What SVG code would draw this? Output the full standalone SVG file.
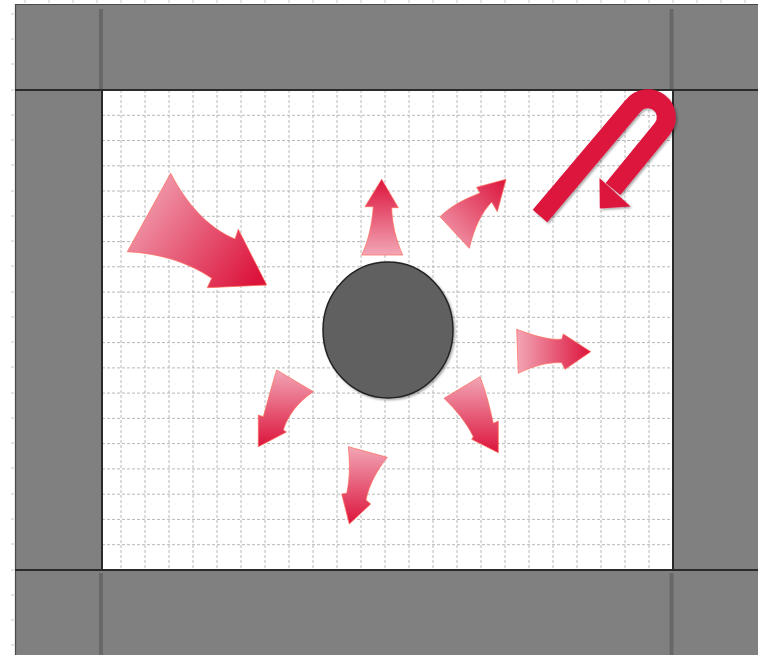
<svg xmlns="http://www.w3.org/2000/svg" width="758" height="655" viewBox="0 0 758 655">
<defs>
<style>
.band{fill:#808080}
.bar{fill:#686868}
.frame{stroke:#2a2a2a;stroke-width:2;fill:none}
.grid line{stroke:#b8b8b8;stroke-width:1;stroke-dasharray:3 2}
.tick{stroke:#c8c8c8;stroke-width:1}
.arrow{stroke:#ff6a55;stroke-opacity:0.7;stroke-width:1;stroke-linejoin:miter}
</style>
<linearGradient id="gR" x1="0" y1="0" x2="1" y2="0"><stop offset="0" stop-color="#f2a6b6"/><stop offset="1" stop-color="#dc143c"/></linearGradient>
<linearGradient id="gBig" x1="0" y1="0.2" x2="1" y2="0.8"><stop offset="0" stop-color="#f2a6b6"/><stop offset="1" stop-color="#dc143c"/></linearGradient>
<linearGradient id="gUp" x1="0" y1="1" x2="0" y2="0"><stop offset="0" stop-color="#f2a6b6"/><stop offset="1" stop-color="#dc143c"/></linearGradient>
<linearGradient id="gUR" x1="0" y1="1" x2="1" y2="0"><stop offset="0" stop-color="#f2a6b6"/><stop offset="1" stop-color="#dc143c"/></linearGradient>
<linearGradient id="gDown" x1="0" y1="0" x2="0" y2="1"><stop offset="0" stop-color="#f2a6b6"/><stop offset="1" stop-color="#dc143c"/></linearGradient>
<filter id="sh" x="-20%" y="-20%" width="140%" height="140%"><feDropShadow dx="1.5" dy="1.5" stdDeviation="1.2" flood-color="#000" flood-opacity="0.35"/></filter>
</defs>
<rect width="758" height="655" fill="#ffffff"/>
<g id="rulers">
<path class="tick" d="M25,0V3M49,0V3M73,0V3M97,0V3M121,0V3M145,0V3M169,0V3M193,0V3M217,0V3M241,0V3M265,0V3M289,0V3M313,0V3M337,0V3M361,0V3M385,0V3M409,0V3M433,0V3M457,0V3M481,0V3M505,0V3M529,0V3M553,0V3M577,0V3M601,0V3M625,0V3M649,0V3M673,0V3M697,0V3M721,0V3M745,0V3"/>
<path class="tick" d="M11,14H14M11,39H14M11,64H14M11,90H14M11,115H14M11,140H14M11,165H14M11,191H14M11,216H14M11,241H14M11,266H14M11,292H14M11,317H14M11,342H14M11,367H14M11,393H14M11,418H14M11,443H14M11,468H14M11,494H14M11,519H14M11,544H14M11,570H14M11,595H14M11,620H14M11,645H14"/>
</g>
<g id="frame-bands">
<rect class="band" x="15" y="4" width="743" height="86"/>
<rect class="band" x="15" y="570" width="743" height="85"/>
<rect class="band" x="15" y="90" width="87" height="480"/>
<rect class="band" x="673" y="90" width="85" height="480"/>
<rect class="bar" x="99" y="9" width="4" height="82"/>
<rect class="bar" x="669.5" y="9" width="4" height="82"/>
<rect class="bar" x="99" y="573" width="4" height="82"/>
<rect class="bar" x="669.5" y="573" width="4" height="82"/>
<path d="M15,4.5H758M15.5,4V655" stroke="#4a4a4a" stroke-width="1.2" fill="none"/>
</g>
<g id="canvas">
<rect x="102" y="90" width="571" height="480" fill="#ffffff"/>
<g class="grid">
<line x1="121" y1="90" x2="121" y2="570"/><line x1="145" y1="90" x2="145" y2="570"/><line x1="169" y1="90" x2="169" y2="570"/><line x1="193" y1="90" x2="193" y2="570"/><line x1="217" y1="90" x2="217" y2="570"/><line x1="241" y1="90" x2="241" y2="570"/><line x1="265" y1="90" x2="265" y2="570"/><line x1="289" y1="90" x2="289" y2="570"/><line x1="313" y1="90" x2="313" y2="570"/><line x1="337" y1="90" x2="337" y2="570"/><line x1="361" y1="90" x2="361" y2="570"/><line x1="385" y1="90" x2="385" y2="570"/><line x1="409" y1="90" x2="409" y2="570"/><line x1="433" y1="90" x2="433" y2="570"/><line x1="457" y1="90" x2="457" y2="570"/><line x1="481" y1="90" x2="481" y2="570"/><line x1="505" y1="90" x2="505" y2="570"/><line x1="529" y1="90" x2="529" y2="570"/><line x1="553" y1="90" x2="553" y2="570"/><line x1="577" y1="90" x2="577" y2="570"/><line x1="601" y1="90" x2="601" y2="570"/><line x1="625" y1="90" x2="625" y2="570"/><line x1="649" y1="90" x2="649" y2="570"/>
<line x1="102" y1="115.3" x2="673" y2="115.3"/><line x1="102" y1="140.5" x2="673" y2="140.5"/><line x1="102" y1="165.8" x2="673" y2="165.8"/><line x1="102" y1="191" x2="673" y2="191"/><line x1="102" y1="216.3" x2="673" y2="216.3"/><line x1="102" y1="241.6" x2="673" y2="241.6"/><line x1="102" y1="266.8" x2="673" y2="266.8"/><line x1="102" y1="292.1" x2="673" y2="292.1"/><line x1="102" y1="317.3" x2="673" y2="317.3"/><line x1="102" y1="342.6" x2="673" y2="342.6"/><line x1="102" y1="367.9" x2="673" y2="367.9"/><line x1="102" y1="393.1" x2="673" y2="393.1"/><line x1="102" y1="418.4" x2="673" y2="418.4"/><line x1="102" y1="443.6" x2="673" y2="443.6"/><line x1="102" y1="468.9" x2="673" y2="468.9"/><line x1="102" y1="494.2" x2="673" y2="494.2"/><line x1="102" y1="519.4" x2="673" y2="519.4"/><line x1="102" y1="544.7" x2="673" y2="544.7"/>
</g>
<path class="frame" d="M15,90H758M15,570H758M102,90V570M673,90V570"/>
</g>
<g id="center-disc">
<ellipse cx="388" cy="330" rx="65" ry="68" fill="#606060" stroke="#222222" stroke-width="1.5" filter="url(#sh)"/>
</g>
<g id="connectors">
<g id="arrow-big"><path class="arrow" fill="url(#gBig)" d="M170.7,173.3 C186,203 208,228 235,239 L238.3,229.3 L266.7,285 L207.3,287.7 L211.7,278.3 C188,262 158,253 127.3,251.7 Z"/></g>
<g id="arrow-up"><path class="arrow" fill="url(#gUp)" d="M381.7,179.3 L365,206.7 L373.3,206.7 C372,225 368,242 361.7,255 L402.7,255 C396,240 392,224 391.7,207.7 L398.3,207.7 Z"/></g>
<g id="arrow-upright"><path class="arrow" fill="url(#gUR)" d="M506,179.3 L476.7,187.3 L480,193 C462,200 450,207 440,216.7 L469.3,248.3 C474,228 482,212 491.7,202 L497.3,211.7 Z"/></g>
<g id="arrow-right"><path class="arrow" fill="url(#gR)" d="M516.7,329.3 C535,336 548,340 561.7,339.3 L563.3,334 L590.7,351.7 L565,369.3 L561.7,362.7 C548,362 533,366 518.3,373.3 Z"/></g>
<g id="arrow-lowleft"><path class="arrow" fill="url(#gDown)" d="M276.7,370 L313.3,391.7 C298,402 288,415 283.3,430 L286.5,432 L258.3,446.7 L258.3,415 L263.3,416.7 C268,400 272,385 276.7,370 Z"/></g>
<g id="arrow-down"><path class="arrow" fill="url(#gDown)" d="M348.3,446.7 L387.3,457.3 C377,470 369,485 366,500 L370.7,504 L349.3,524 L341.7,494 L346.7,493.3 C350,478 350,462 348.3,446.7 Z"/></g>
<g id="arrow-lowright"><path class="arrow" fill="url(#gDown)" d="M480,376.7 L444,398.3 C456,410 466,422 473.3,436.7 L471.7,439.3 L498.3,452.7 L498.3,421 L493.3,423.3 C490,408 486,392 480,376.7 Z"/></g>
<g id="arrow-uturn" filter="url(#sh)">
<path d="M540,216 L633,106 A18.5,18.5 0 0 1 662.5,128.5 L613,189" fill="none" stroke="#dc143c" stroke-width="19"/>
<polygon points="599.8,208.5 599.5,178 630.5,206.5" fill="#dc143c"/>
</g>
</g>
</svg>
